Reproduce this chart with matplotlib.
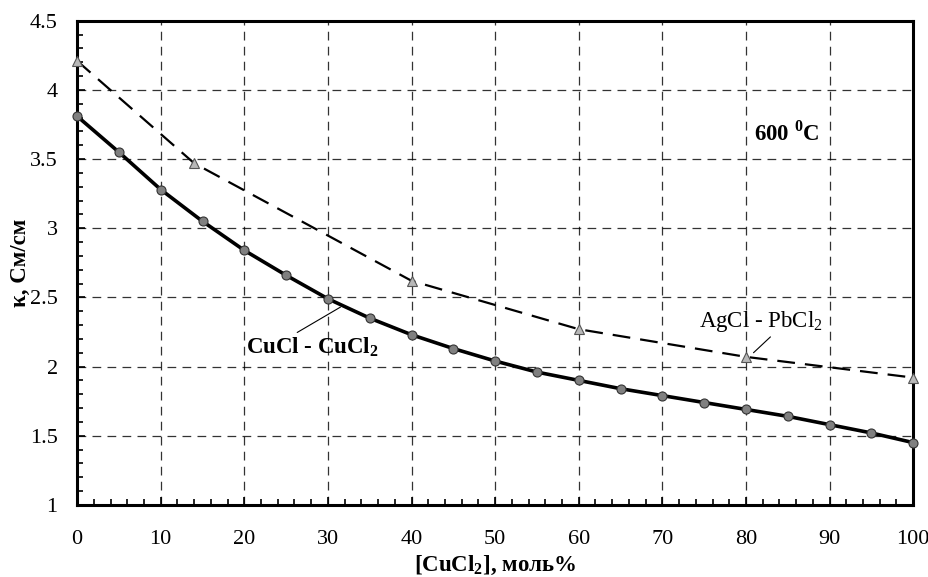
import numpy as np
import matplotlib
matplotlib.use("Agg")
from matplotlib import pyplot
from matplotlib.ticker import MultipleLocator

pyplot.rcParams["font.family"] = ["Liberation Serif", "DejaVu Serif"]
pyplot.rcParams["mathtext.fontset"] = "custom"
pyplot.rcParams["mathtext.rm"] = "Liberation Serif"
pyplot.rcParams["mathtext.bf"] = "Liberation Serif:bold"

# CuCl - CuCl2 melt, 600 C
cucl_x = [0, 5, 10, 15, 20, 25, 30, 35, 40, 45, 50,
          55, 60, 65, 70, 75, 80, 85, 90, 95, 100]
cucl_k = [3.81, 3.55, 3.28, 3.05, 2.84, 2.66, 2.49, 2.35, 2.23, 2.13, 2.04,
          1.96, 1.90, 1.84, 1.79, 1.74, 1.69, 1.64, 1.58, 1.52, 1.45]

# AgCl - PbCl2 melt, 600 C
agcl_x = [0, 14, 40, 60, 80, 100]
agcl_k = [4.21, 3.47, 2.62, 2.27, 2.07, 1.92]

fig, ax = pyplot.subplots(figsize=(9.29, 5.77), dpi=100)
fig.subplots_adjust(left=0.083, right=0.983, top=0.964, bottom=0.125)

ax.plot(agcl_x, agcl_k, color="black", lw=1.6, ls=(0, (8, 4.5)),
        marker="^", markersize=7.5, markerfacecolor="#b8b8b8",
        markeredgecolor="#555555", markeredgewidth=0.8, clip_on=False, zorder=3)
ax.plot(cucl_x, cucl_k, color="black", lw=2.6, marker="o", markersize=6.5,
        markerfacecolor="#808080", markeredgecolor="#333333",
        markeredgewidth=0.8, clip_on=False, zorder=4)

ax.set_xlim(0, 100)
ax.set_ylim(1, 4.5)
ax.xaxis.set_major_locator(MultipleLocator(10))
ax.xaxis.set_minor_locator(MultipleLocator(2))
ax.yaxis.set_major_locator(MultipleLocator(0.5))
ax.yaxis.set_minor_locator(MultipleLocator(0.1))
ax.yaxis.set_major_formatter(matplotlib.ticker.FuncFormatter(lambda v, p: f"{v:g}"))
ax.tick_params(axis="both", which="both", direction="in", top=False, right=False,
               labelsize=16, width=1.2)
ax.tick_params(axis="both", which="major", length=6)
ax.tick_params(axis="both", which="minor", length=4)
ax.tick_params(axis="y", which="major", pad=14)
ax.tick_params(axis="x", which="major", pad=18)
for spine in ax.spines.values():
    spine.set_linewidth(2.2)

ax.grid(True, which="major", color="black", lw=0.9, ls=(0, (7, 5)), alpha=0.8)
ax.set_axisbelow(True)

ax.set_xlabel(r"[CuCl$_\mathbf{2}$], моль%", fontsize=16.5, fontweight="bold", labelpad=4)
ax.set_ylabel("κ, См/см", fontsize=16.5, fontweight="bold", labelpad=-1)

ax.annotate(r"CuCl - CuCl$_\mathbf{2}$", xy=(31.5, 2.43), xytext=(20.2, 2.14),
            fontsize=16.5, fontweight="bold", va="center", ha="left",
            arrowprops=dict(arrowstyle="-", color="black", lw=0.8, shrinkA=0, shrinkB=0,
                            relpos=(0.35, 1.0)))
ax.annotate(r"AgCl - PbCl$_2$", xy=(80.9, 2.10), xytext=(74.4, 2.325),
            fontsize=16.5, va="center", ha="left",
            arrowprops=dict(arrowstyle="-", color="black", lw=0.8, shrinkA=0, shrinkB=0,
                            relpos=(0.6, 0.0)))
ax.text(80.9, 3.69, r"600 $^\mathbf{0}$C", fontsize=16.5, fontweight="bold",
        va="center", ha="left")

fig.savefig("out.png", dpi=100)
